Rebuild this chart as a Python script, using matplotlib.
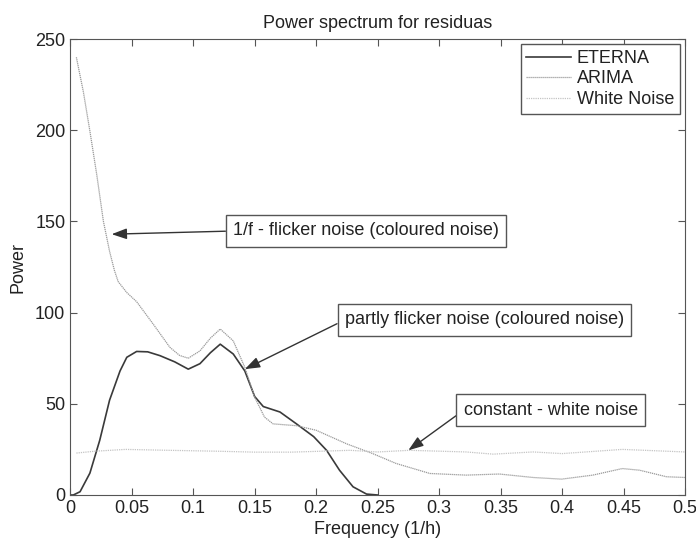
import numpy as np
import matplotlib
matplotlib.use("Agg")
import matplotlib.pyplot as plt

# -----------
# > Data <
# -----------
eterna_f = [0.0, 0.0025, 0.008, 0.016, 0.024, 0.032, 0.0405, 0.046, 0.054, 0.063,
            0.073, 0.085, 0.096, 0.1055, 0.114, 0.122, 0.1326, 0.142, 0.150, 0.157,
            0.1706, 0.184, 0.198, 0.2085, 0.219, 0.230, 0.241, 0.25]
eterna_p = [0.0, 0.0, 1.8, 12, 30, 52, 68, 75.5, 78.7, 78.5,
            76.4, 73, 69, 72, 78, 82.7, 77.3, 68, 54, 48.5,
            45.5, 39, 32, 24.5, 13.6, 4.5, 0.5, 0.0]

arima_f = [0.005, 0.0107, 0.016, 0.0216, 0.027, 0.032, 0.036, 0.039, 0.046, 0.054,
           0.0676, 0.081, 0.089, 0.096, 0.1055, 0.114, 0.122, 0.1326, 0.142, 0.150,
           0.158, 0.165, 0.184, 0.2, 0.225, 0.246, 0.265, 0.2925, 0.322, 0.349,
           0.3765, 0.3996, 0.425, 0.449, 0.463, 0.485, 0.5]
arima_p = [240, 221, 199.5, 175.5, 150, 133.6, 123, 117, 111, 106,
           93.6, 81, 76.5, 75, 79, 86, 91, 84.5, 70, 53.6,
           42.7, 39, 38, 35.5, 28, 22.7, 17.3, 11.8, 10.9, 11.5,
           9.6, 8.7, 10.9, 14.5, 13.6, 10, 9.6]

white_f = [0.005, 0.02, 0.045, 0.08, 0.12, 0.15, 0.18, 0.2275, 0.25, 0.276,
           0.322, 0.344, 0.3765, 0.4, 0.449, 0.5]
white_p = [23, 24, 25, 24.5, 24, 23.5, 23.5, 24.5, 23.6, 24.5,
           23.6, 22.4, 23.6, 22.7, 25, 23.6]

x_ticks = [0, 0.05, 0.1, 0.15, 0.2, 0.25, 0.3, 0.35, 0.4, 0.45, 0.5]
x_tick_labels = ["0", "0.05", "0.1", "0.15", "0.2", "0.25", "0.3", "0.35", "0.4", "0.45", "0.5"]
y_ticks = [0, 50, 100, 150, 200, 250]

# (label, arrow tip freq, arrow tip power, text pos in axes fraction)
notes = [
    ("1/f - flicker noise (coloured noise)", 0.0337, 143, (0.265, 0.579)),
    ("partly flicker noise (coloured noise)", 0.142, 69, (0.4465, 0.384)),
    ("constant - white noise", 0.275, 24.5, (0.640, 0.186)),
]

# -----------
# > Plot <
# -----------
plt.rcParams["font.family"] = ["Liberation Sans", "DejaVu Sans"]
plt.rcParams["font.size"] = 13

fig = plt.figure(figsize=(6.96, 5.43), dpi=100)
ax = fig.add_axes([0.1009, 0.0884, 0.8833, 0.8397])

ax.plot(eterna_f, eterna_p, color="#3a3a3a", lw=1.2, label="ETERNA")
ax.plot(arima_f, arima_p, color="#9a9a9a", lw=0.9, ls=(0, (1, 0.6)), label="ARIMA")
ax.plot(white_f, white_p, color="#c4c4c4", lw=0.9, ls=(0, (1, 0.8)), label="White Noise")

ax.set_xlim(0, 0.5)
ax.set_ylim(0, 250)
ax.set_xticks(x_ticks)
ax.set_xticklabels(x_tick_labels)
ax.set_yticks(y_ticks)
ax.tick_params(direction="in", top=True, right=True, length=5, color="#555555",
               labelcolor="#222222", labelsize=13)
for sp in ax.spines.values():
    sp.set_color("#555555")

ax.set_title("Power spectrum for residuas", fontsize=13, color="#222222", pad=8)
ax.set_xlabel("Frequency (1/h)", fontsize=13, color="#222222", labelpad=3)
ax.set_ylabel("Power", fontsize=13, color="#222222", labelpad=6)

leg = ax.legend(loc="upper right", fontsize=13, frameon=True, fancybox=False,
                borderaxespad=0.3, borderpad=0.3, labelspacing=0.2,
                handlelength=2.5, handletextpad=0.3, framealpha=1)
leg.get_frame().set_edgecolor("#555555")
leg.get_frame().set_linewidth(1)
for t in leg.get_texts():
    t.set_color("#222222")

for label, fx, py, pos in notes:
    ax.annotate(label, xy=(fx, py), xytext=pos, textcoords="axes fraction",
                ha="left", va="center", fontsize=13, color="#222222",
                bbox=dict(boxstyle="square,pad=0.4", fc="white", ec="#555555", lw=1),
                arrowprops=dict(arrowstyle="-|>,head_length=0.7,head_width=0.25",
                                color="#333333", lw=1, relpos=(0, 0.5),
                                shrinkA=0, shrinkB=0))

fig.savefig("out.png", dpi=100, facecolor="white")
